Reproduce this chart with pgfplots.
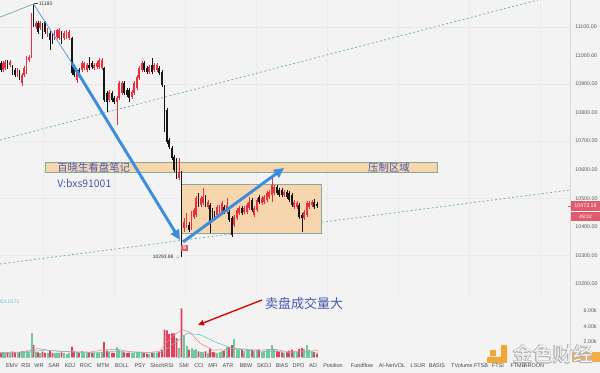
\documentclass[border=0pt]{standalone}
\usepackage{pgfplots}
\pgfplotsset{compat=1.18}
\usepackage{pgfplotstable}
\usepackage{fontspec}
\setmainfont{Liberation Sans}
\newfontfamily\cjk{Noto Sans CJK SC}
\usetikzlibrary{arrows.meta}
\definecolor{bg}{HTML}{F3F3F3}
\definecolor{gridc}{HTML}{EAEAEA}
\definecolor{upred}{HTML}{E8303F}
\definecolor{dnblk}{HTML}{151515}
\definecolor{volred}{HTML}{E0405A}
\definecolor{volgrn}{HTML}{6CC9A0}
\definecolor{trend}{HTML}{7FB7B5}
\definecolor{annblue}{HTML}{4459B5}
\definecolor{arrblue}{HTML}{3B8EDB}
\definecolor{boxfill}{HTML}{F7D6AE}
\definecolor{boxedge}{HTML}{88A898}
\definecolor{tagred}{HTML}{E05B6B}
\definecolor{logoor}{HTML}{F2A735}
\definecolor{tickgray}{HTML}{5A5A5A}
\definecolor{mared}{HTML}{F08080}
\definecolor{mateal}{HTML}{5BC4C4}

\pgfplotstableread{
x o h l c v
3 10949 10981 10942 10974 650
5 10956 10984 10949 10977 550
10 10967 10984 10960 10977 500
17.5 10932 10956 10925 10949 600
22 10904 10939 10893 10932 750
24 10932 10963 10925 10956 650
26.5 10942 10998 10935 10991 800
29 10984 11002 10977 10995 700
31.5 10995 11149 10991 11142 3100
36 11100 11121 11093 11114 700
40 11096 11121 11089 11114 600
47.5 11072 11096 11065 11089 550
54.5 11061 11089 11054 11082 550
57 11065 11093 11058 11089 500
59 11061 11096 11054 11089 550
64 11061 11086 11054 11079 500
66.5 11065 11089 11058 11082 450
69 11061 11089 11054 11082 500
77 10914 10946 10904 10939 700
82 10949 10981 10942 10974 750
84 10956 10977 10949 10974 600
87 10949 10974 10942 10967 550
94 10956 10974 10949 10967 500
97 10960 10981 10953 10974 550
99 10960 10991 10953 10984 600
102 10956 10991 10949 10984 650
109 10844 10879 10837 10872 700
117 10837 10858 10757 10851 1350
119 10851 10911 10844 10904 900
122 10869 10911 10862 10904 700
132 10855 10879 10848 10872 500
134 10869 10911 10862 10904 550
137 10886 10932 10879 10925 650
139 10921 10963 10914 10956 700
142 10949 10981 10942 10974 600
149 10942 10967 10935 10960 450
154 10949 10974 10942 10967 500
157 10949 10974 10942 10967 550
179 10571 10641 10564 10592 1200
184 10396 10431 10382 10417 2900
186.5 10407 10449 10396 10442 1500
191.5 10396 10456 10389 10449 1200
194 10435 10466 10428 10459 900
196 10442 10508 10435 10501 1100
201 10477 10508 10470 10501 700
203 10484 10536 10477 10505 650
208 10470 10494 10463 10487 600
217 10442 10477 10435 10470 600
219.5 10442 10477 10435 10470 700
222 10449 10491 10442 10484 750
227 10452 10501 10445 10477 1300
234 10407 10442 10400 10435 2400
237 10431 10466 10424 10459 1100
239 10449 10473 10442 10466 900
244 10452 10473 10445 10466 800
247 10452 10484 10445 10477 1000
249 10466 10505 10459 10487 900
254 10442 10473 10435 10466 800
257 10459 10501 10452 10494 900
262 10484 10508 10477 10501 700
264 10487 10512 10480 10505 800
267 10494 10526 10487 10519 900
269 10505 10529 10498 10522 1000
272 10512 10571 10487 10547 1600
274 10519 10547 10512 10540 1000
284 10512 10529 10505 10522 600
294 10470 10494 10463 10487 700
297 10470 10491 10463 10484 650
304 10431 10459 10424 10452 1000
307 10442 10491 10435 10484 1600
309 10470 10491 10463 10484 900
312 10477 10494 10470 10487 800
}\uptab

\pgfplotstableread{
x o h l c v
1 10974 10981 10942 10949 600
7.5 10977 10984 10953 10960 700
12.5 10960 10967 10932 10939 750
15 10949 10956 10925 10932 650
19.5 10942 10949 10914 10921 700
33.5 11149 11180 11100 11107 1600
38 11114 11121 11075 11082 650
42.5 11107 11114 11058 11065 750
45 11117 11121 11075 11082 600
50 11079 11086 11019 11054 850
52.5 11072 11079 11040 11047 600
61.5 11079 11086 11040 11047 650
72 11061 11065 10932 10939 1400
74 10960 10967 10925 10932 800
79 10949 10956 10925 10932 600
89 10967 10995 10949 10956 650
92 10974 10981 10953 10960 550
104 10956 10960 10837 10844 2000
107 10869 10876 10802 10837 900
112 10869 10876 10837 10844 600
114 10851 10858 10830 10837 550
124 10904 10911 10862 10869 650
127 10879 10886 10855 10862 550
129 10879 10886 10837 10851 600
144 10974 10981 10942 10949 550
147 10956 10963 10935 10942 500
152 10967 10991 10935 10942 600
159 10956 10963 10932 10939 700
162 10942 10949 10890 10897 950
164.5 10879 10897 10732 10739 3600
167 10809 10816 10690 10697 3500
169 10704 10711 10673 10680 3000
172 10676 10683 10634 10641 3100
174 10645 10652 10592 10599 3100
176.5 10634 10641 10568 10575 2500
181.5 10589 10596 10294 10417 6350
189 10407 10417 10382 10389 1000
198.5 10501 10519 10470 10477 800
205.5 10505 10512 10470 10477 800
210 10477 10484 10379 10417 1100
212.5 10459 10466 10428 10435 700
214.5 10449 10456 10424 10431 650
224 10470 10477 10445 10452 900
229 10452 10459 10417 10424 1300
232 10431 10438 10365 10372 1600
242 10466 10473 10442 10449 1000
252 10494 10501 10452 10459 1000
259 10505 10512 10480 10487 1000
277 10540 10547 10512 10519 900
279 10529 10536 10505 10512 700
282 10529 10536 10505 10512 650
287 10522 10529 10498 10505 700
289 10519 10526 10487 10494 900
292 10512 10519 10470 10477 1000
299 10477 10484 10428 10435 1100
302 10442 10449 10382 10431 1200
314 10487 10498 10463 10470 700
317 10480 10487 10466 10472 500
}\dntab

\pgfplotsset{
  candle/.style={only marks, mark=*, mark size=0pt, mark options={draw=none, fill=none},
    error bars/.cd, y dir=plus, y explicit, error mark=none},
}

\begin{document}
\begin{tikzpicture}
\fill[bg] (0pt,0pt) rectangle (450pt,-279.75pt);

% ---------------- price pane ----------------
\begin{axis}[
  at={(0pt,0pt)}, anchor=north west,
  scale only axis, width=427.5pt, height=222pt,
  xmin=0, xmax=570, ymin=10158, ymax=11194,
  clip=false,
  axis line style={draw=none},
  xtick={43,114,185,256,327,398,469,540}, xticklabels={},
  xmajorgrids, major grid style={gridc, line width=0.5pt},
  ytick={10200,10300,...,11100},
  extra y ticks={10300,10500,10700,10900,11100}, extra y tick labels={},
  extra y tick style={ymajorgrids, major grid style={gridc, line width=0.5pt}},
  yticklabel pos=right,
  major tick length=0pt,
  scaled y ticks=false,
  /pgf/number format/fixed,
  /pgf/number format/fixed zerofill,
  /pgf/number format/precision=2,
  /pgf/number format/1000 sep={},
  /pgf/number format/assume math mode=true,
  yticklabel style={font=\fontsize{4}{4}\selectfont, text=tickgray, anchor=west, inner sep=0pt, xshift=3.8pt},
]
% right border of chart area
\draw[black!14, line width=0.5pt] (axis cs:570,10158) -- (axis cs:570,11194);
% trend lines
\draw[trend, line width=0.6pt, dash pattern=on 1.6pt off 1.6pt] (axis cs:0,10704) -- (axis cs:538,11194);
\draw[trend, line width=0.6pt, dash pattern=on 1.6pt off 1.6pt] (axis cs:0,10270) -- (axis cs:570,10529);
\draw[trend!90!black, line width=0.5pt] (axis cs:0,11134) -- (axis cs:33.5,11180);
% zones
\draw[fill=boxfill, draw=boxedge, line width=0.6pt] (axis cs:45,10627) rectangle (axis cs:437,10592);
\draw[fill=boxfill, draw=boxedge, line width=0.6pt] (axis cs:181,10550) rectangle (axis cs:321,10378);

% candles: wicks
\addplot[candle, error bar style={line width=0.5pt, draw=upred}]
  table[x=x, y=l, y error plus expr=\thisrow{h}-\thisrow{l}] {\uptab};
\addplot[candle, error bar style={line width=0.5pt, draw=dnblk}]
  table[x=x, y=l, y error plus expr=\thisrow{h}-\thisrow{l}] {\dntab};
% candles: bodies
\addplot[candle, error bar style={line width=1.3pt, draw=upred}]
  table[x=x, y=o, y error plus expr={max(\thisrow{c}-\thisrow{o},3)}] {\uptab};
\addplot[candle, error bar style={line width=1.3pt, draw=dnblk}]
  table[x=x, y=c, y error plus expr={max(\thisrow{o}-\thisrow{c},3)}] {\dntab};

% texts in zone
\node[anchor=west, text=annblue, font=\cjk\fontsize{7.8}{8}\selectfont, inner sep=0pt] at (axis cs:57,10607) {百晓生看盘笔记};
\node[anchor=west, text=annblue, font=\cjk\fontsize{7.8}{8}\selectfont, inner sep=0pt] at (axis cs:57,10553) {V:bxs91001};
\node[text=annblue, font=\cjk\fontsize{7.8}{8}\selectfont, inner sep=0pt] at (axis cs:389,10609) {压制区域};

% arrows
\draw[arrblue!85, line width=0.6pt] (axis cs:33.5,11180) -- (axis cs:72,10973);
\draw[arrblue, line width=2.2pt, -{Triangle[length=7.5pt,width=7pt]}] (axis cs:72,10973) -- (axis cs:180,10354);
\draw[arrblue, line width=2.2pt, -{Triangle[length=7.5pt,width=7pt]}] (axis cs:183,10347) -- (axis cs:284,10606);

% high / low labels
\draw[black!70, line width=0.4pt] (axis cs:33.5,11181) -- (axis cs:38,11181);
\node[anchor=west, font=\fontsize{3.9}{4}\selectfont, text=black!75, inner sep=0pt] at (axis cs:38.5,11181) {11180};
\node[anchor=east, font=\fontsize{3.7}{4}\selectfont, text=black!80, inner sep=0pt] at (axis cs:180,10294) {10293.88 →};
\node[fill=tagred, text=white, font=\fontsize{4}{4}\selectfont\bfseries, inner sep=0pt, minimum width=4.6pt, minimum height=4.6pt] at (axis cs:184.5,10326) {9};

% last price tag
\draw[tagred, line width=0.5pt] (axis cs:568,10473) -- (axis cs:571,10473);
\node[fill=tagred, text=white, font=\fontsize{4}{4}\selectfont, inner sep=0pt, minimum width=22pt, minimum height=7.5pt, anchor=west] at (axis cs:570.6,10473) {10472.18};
\node[fill=tagred, text=white, font=\fontsize{3.8}{4}\selectfont, inner sep=0pt, minimum width=22pt, minimum height=6.6pt, anchor=west] at (axis cs:570.6,10437) {48:32};
\end{axis}

% ---------------- volume pane ----------------
\begin{axis}[
  at={(0pt,-222pt)}, anchor=north west,
  scale only axis, width=427.5pt, height=46.125pt,
  xmin=0, xmax=570, ymin=0, ymax=7935,
  clip=false,
  axis line style={draw=none},
  ytick={2000,4000,6000}, yticklabels={2.00k,4.00k,6.00k},
  yticklabel pos=right,
  major tick length=0pt,
  scaled y ticks=false,
  yticklabel style={font=\fontsize{4}{4}\selectfont, text=tickgray, anchor=west, inner sep=0pt, xshift=10pt},
  xtick={12,26,39,54,70,86,103,122,140,162,184,199,213,228,246,264,282,298.5,313,333,362,392,418,437,462,481,498,518,534},
  xticklabels={EMV,RSI,WR,SAR,KDJ,ROC,MTM,BOLL,PSY,StochRSI,SMI,CCI,MFI,ATR,BBW,SKDJ,BIAS,DPO,AO,Position,Fundflow,AI-NetVOL,LSUR,BASIS,TVolume,FTSB,FTSI,FTMB,AROON},
  xticklabel style={font=\fontsize{4.1}{4.5}\selectfont, text=black!72, inner sep=0pt, anchor=north, yshift=-4.6pt},
]
\draw[black!14, line width=0.5pt] (axis cs:570,0) -- (axis cs:570,7935);
\addplot[ybar, bar width=1.4pt, bar shift=0pt, fill=volred, draw=none] table[x=x, y=v] {\dntab};
\addplot[ybar, bar width=1.1pt, bar shift=0pt, fill=none, draw=volgrn, line width=0.4pt] table[x=x, y=v] {\uptab};
\addplot[mared, line width=0.4pt] coordinates {
(0,650) (20,700) (30,900) (38,1150) (50,900) (70,750) (90,700) (104,1000) (117,1050) (130,750) (150,650) (160,800) (166,1800) (172,2700) (182,3600) (190,3250) (200,1850) (213,950) (225,1000) (235,1200) (250,1000) (262,950) (273,1100) (285,800) (300,750) (318,900)};
\addplot[mateal, line width=0.4pt] coordinates {
(0,550) (20,600) (35,800) (45,950) (60,800) (80,650) (100,650) (115,800) (130,700) (150,600) (160,600) (170,1400) (180,2400) (187,3100) (200,2950) (217,1900) (233,1150) (253,850) (267,800) (280,750) (293,600) (318,600)};
\node[anchor=west, text=mateal, font=\fontsize{3.8}{4}\selectfont, inner sep=0pt] at (axis cs:-2,7160) {061.0171};
\node[text=annblue, font=\cjk\fontsize{9.75}{10}\selectfont, inner sep=0pt] at (axis cs:304,6900) {卖盘成交量大};
\draw[red!85!black, line width=1pt, -{Triangle[length=4.5pt,width=4pt]}] (axis cs:262,7420) -- (axis cs:198,4194);
\end{axis}

% ---------------- watermark ----------------
\fill[logoor, opacity=0.9] (429pt,-264pt) rectangle (450pt,-271.5pt);
\fill[logoor, rounded corners=0.6pt] (367.5pt,-262.5pt) rectangle (372pt,-267pt);
\fill[logoor, rounded corners=0.6pt] (375.75pt,-258.75pt) rectangle (380.25pt,-272.25pt);
\fill[logoor, rounded corners=0.6pt] (365.25pt,-267.75pt) rectangle (380.25pt,-272.25pt);
\foreach \dx/\dy in {0.4/0,-0.4/0,0/0.4,0/-0.4,0.3/0.3,-0.3/0.3,0.3/-0.3,-0.3/-0.3}{
  \node[text=black!30, font=\cjk\fontsize{15}{15}\selectfont, inner sep=0pt] at (414.75pt+\dx pt,-265.5pt+\dy pt) {金色财经};
}
\node[text=white!96!black, font=\cjk\fontsize{15}{15}\selectfont, inner sep=0pt] at (414.75pt,-265.5pt) {金色财经};

\pgfresetboundingbox
\useasboundingbox (0pt,0pt) rectangle (450pt,-279.75pt);
\end{tikzpicture}
\end{document}
